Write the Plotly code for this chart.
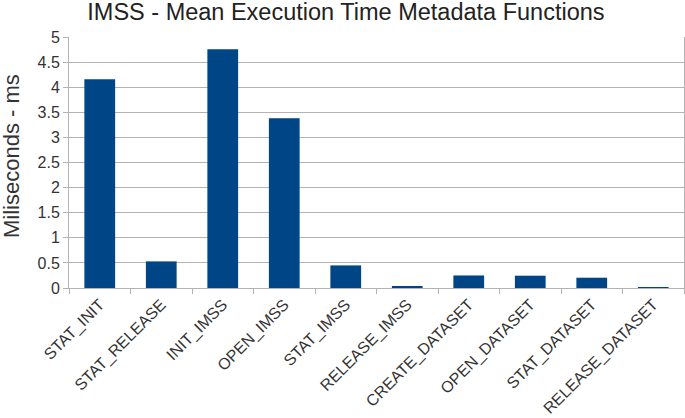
import plotly.graph_objects as go

functions = ['STAT_INIT', 'STAT_RELEASE', 'INIT_IMSS', 'OPEN_IMSS', 'STAT_IMSS',
             'RELEASE_IMSS', 'CREATE_DATASET', 'OPEN_DATASET', 'STAT_DATASET',
             'RELEASE_DATASET']
mean_ms = [4.16, 0.53, 4.755, 3.38, 0.45, 0.025, 0.25, 0.245, 0.205, 0.01]
y_ticks = [0, 0.5, 1, 1.5, 2, 2.5, 3, 3.5, 4, 4.5, 5]

fig = go.Figure(go.Bar(
    x=functions,
    y=mean_ms,
    marker_color='#004586',
    marker_line_width=0,
))

fig.update_layout(
    width=685, height=418,
    margin=dict(l=69, r=1, t=37, b=130),
    paper_bgcolor='white',
    plot_bgcolor='white',
    font=dict(family='Liberation Sans, Arial, sans-serif', color='#333333'),
    title=dict(text='IMSS - Mean Execution Time Metadata Functions',
               x=0.505, xanchor='center', y=0.972, yanchor='middle',
               font=dict(size=23.5, color='#222222')),
    bargap=0.5,
    showlegend=False,
)

# y-axis title placed as an annotation so it sits where the reference has it
fig.add_annotation(
    text='Miliseconds - ms', textangle=-90,
    xref='paper', yref='paper', x=0, y=(288 - 156) / 251,
    xanchor='center', yanchor='middle', xshift=-58,
    showarrow=False, font=dict(size=22, color='#333333'),
)

fig.update_xaxes(
    tickangle=-45,
    tickfont=dict(size=16),
    automargin=False,
    showline=True, linecolor='#b3b3b3',
    ticks='outside', tickson='boundaries', ticklen=5, tickcolor='#b3b3b3',
    showgrid=False,
)
fig.update_yaxes(
    range=[0, 5],
    tickvals=y_ticks,
    ticktext=[f'{v:g}' for v in y_ticks],
    tickfont=dict(size=16),
    automargin=False,
    showline=True, linecolor='#b3b3b3', mirror=True,
    ticks='outside', ticklen=5, tickcolor='#b3b3b3',
    showgrid=True, gridcolor='#b3b3b3', gridwidth=1,
    zeroline=False,
)

fig.write_html('out.html', config={'displayModeBar': False},
               post_script="document.body.style.margin='0';")
